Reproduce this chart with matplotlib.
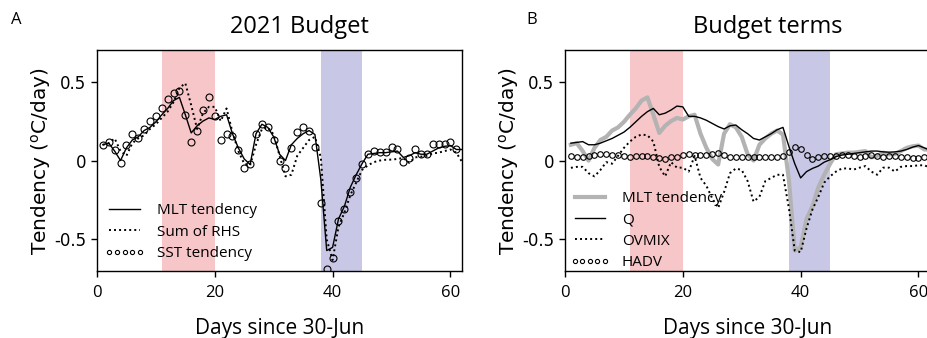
import numpy as np
import matplotlib
matplotlib.use("Agg")
import matplotlib.pyplot as plt

days = np.arange(1, 63)

mlt = [0.10, 0.11, 0.06, 0.00, 0.08, 0.13, 0.15, 0.19, 0.21, 0.245,
       0.29, 0.33, 0.38, 0.40, 0.29, 0.175, 0.22, 0.25, 0.27, 0.26,
       0.28, 0.29, 0.17, 0.08, 0.01, -0.025, 0.17, 0.23, 0.21, 0.15,
       0.04, 0.00, 0.10, 0.14, 0.17, 0.19, 0.165, -0.12, -0.57, -0.55,
       -0.37, -0.29, -0.17, -0.09, -0.02, 0.04, 0.045, 0.05, 0.05, 0.055,
       0.06, 0.02, 0.03, 0.05, 0.04, 0.04, 0.06, 0.08, 0.09, 0.095,
       0.07, 0.07]

rhs = [0.10, 0.11, 0.14, 0.06, 0.03, 0.11, 0.14, 0.16, 0.20, 0.23,
       0.27, 0.31, 0.37, 0.46, 0.49, 0.35, 0.20, 0.30, 0.34, 0.34,
       0.25, 0.33, 0.18, 0.06, -0.02, -0.03, 0.10, 0.20, 0.21, 0.165,
       0.03, -0.10, -0.09, 0.03, 0.08, 0.13, 0.15, 0.02, -0.50, -0.63,
       -0.42, -0.33, -0.22, -0.14, -0.06, -0.03, -0.01, 0.00, 0.005, 0.006,
       0.01, 0.017, -0.015, 0.02, 0.025, 0.03, 0.045, 0.05, 0.06, 0.07,
       0.05, -0.01]

sst_days = np.arange(1, 62)
sst = [0.10, 0.12, 0.065, -0.015, 0.10, 0.17, 0.145, 0.20, 0.25, 0.285,
       0.33, 0.39, 0.43, 0.44, 0.29, 0.12, 0.185, 0.32, 0.40, 0.28,
       0.13, 0.165, 0.155, 0.065, -0.046, -0.025, 0.165, 0.23, 0.21, 0.13,
       -0.004, -0.046, 0.08, 0.18, 0.21, 0.19, 0.086, -0.27, -0.69, -0.62,
       -0.38, -0.31, -0.20, -0.11, -0.025, 0.04, 0.06, 0.053, 0.053, 0.086,
       0.07, -0.01, 0.017, 0.07, 0.04, 0.04, 0.105, 0.105, 0.105, 0.12,
       0.07]

q = [0.11, 0.115, 0.12, 0.10, 0.10, 0.11, 0.125, 0.14, 0.16, 0.18,
     0.21, 0.245, 0.28, 0.31, 0.33, 0.29, 0.30, 0.32, 0.345, 0.34,
     0.28, 0.28, 0.27, 0.255, 0.235, 0.215, 0.20, 0.22, 0.225, 0.195,
     0.17, 0.14, 0.13, 0.15, 0.17, 0.195, 0.21, 0.09, -0.02, -0.11,
     -0.07, -0.05, -0.035, -0.01, 0.005, 0.025, 0.035, 0.04, 0.045, 0.05,
     0.055, 0.06, 0.06, 0.055, 0.053, 0.055, 0.06, 0.07, 0.085, 0.095,
     0.08, 0.065]

ovmix = [-0.046, -0.04, -0.04, -0.08, -0.10, -0.06, -0.01, -0.02, 0.03, 0.08,
         0.12, 0.15, 0.165, 0.16, 0.12, -0.04, -0.10, -0.01, -0.045, -0.045,
         -0.07, 0.03, -0.11, -0.16, -0.24, -0.30, -0.20, -0.08, -0.05, -0.06,
         -0.13, -0.26, -0.23, -0.13, -0.11, -0.09, -0.09, -0.30, -0.57, -0.58,
         -0.43, -0.31, -0.23, -0.14, -0.10, -0.07, -0.05, -0.05, -0.057, -0.045,
         -0.035, -0.07, -0.09, -0.045, -0.045, -0.07, -0.04, -0.035, -0.035, -0.03,
         -0.03, -0.046]

hadv = [0.03, 0.025, 0.025, 0.03, 0.035, 0.04, 0.04, 0.035, 0.035, 0.03,
        0.025, 0.03, 0.03, 0.03, 0.025, 0.015, 0.01, 0.02, 0.02, 0.035,
        0.04, 0.035, 0.035, 0.035, 0.04, 0.05, 0.035, 0.025, 0.02, 0.025,
        0.025, 0.025, 0.02, 0.02, 0.025, 0.025, 0.03, 0.055, 0.085, 0.075,
        0.035, 0.01, 0.02, 0.03, 0.03, 0.03, 0.035, 0.035, 0.03, 0.025,
        0.03, 0.035, 0.03, 0.025, 0.03, 0.03, 0.025, 0.02, 0.015, 0.015,
        0.02, 0.02]

pink_span = (11, 20)
blue_span = (38, 45)

font = "Open Sans"

fig = plt.figure(figsize=(9.27, 3.38), dpi=100)
ax1 = fig.add_axes([0.1046, 0.198, 0.394, 0.654])
ax2 = fig.add_axes([0.6095, 0.198, 0.394, 0.654])


def style(ax, title):
    ax.axvspan(*pink_span, color="#f7c6c9", lw=0, zorder=0)
    ax.axvspan(*blue_span, color="#c9c7e6", lw=0, zorder=0)
    ax.set_xlim(0, 62)
    ax.set_ylim(-0.7, 0.7)
    ax.set_xticks([0, 20, 40, 60])
    ax.set_yticks([-0.5, 0, 0.5])
    ax.set_yticklabels(["-0.5", "0", "0.5"], fontsize=12)
    for lab in ax.get_xticklabels():
        lab.set_fontfamily(font)
        lab.set_fontsize(12)
    ax.tick_params(direction="out", length=4, width=1)
    ax.tick_params(axis="x", pad=6)
    ax.set_xlabel("Days since 30-Jun", fontsize=15, family=font, labelpad=12)
    ax.set_ylabel("Tendency ($^{\\rm o}$C/day)", fontsize=14.5, labelpad=1)
    ax.set_title(title, fontsize=17, family=font, pad=12, x=0.555)
    for s in ax.spines.values():
        s.set_linewidth(1.0)


leg_kw = dict(frameon=False, numpoints=5, prop={"family": font, "size": 11},
              handlelength=2.6, handletextpad=0.8, labelspacing=0.42,
              borderpad=0.3, borderaxespad=0, loc="center left")

# panel A
style(ax1, "2021 Budget")
ax1.plot(days, mlt, color="black", lw=1.0, label="MLT tendency")
ax1.plot(days, rhs, color="black", lw=1.4, ls=(0, (1, 1.6)), label="Sum of RHS")
ax1.plot(sst_days, sst, ls="none", marker="o", ms=5, mfc="none", mec="black",
         mew=0.8, label="SST tendency")
ax1.legend(bbox_to_anchor=(0.009, 0.176), markerscale=0.6, **leg_kw)

# panel B
style(ax2, "Budget terms")
ax2.plot(days, mlt, color="#b3b3b3", lw=3, label="MLT tendency")
ax2.plot(days, q, color="black", lw=1.0, label="Q")
ax2.plot(days, ovmix, color="black", lw=1.4, ls=(0, (1, 1.6)), label="OVMIX")
ax2.plot(days, hadv, ls="none", marker="o", ms=4, mfc="none", mec="black",
         mew=0.8, label="HADV")
ax2.legend(bbox_to_anchor=(0.001, 0.183), markerscale=0.75, **leg_kw)

fig.text(0.012, 0.93, "A", fontsize=12, family=font)
fig.text(0.568, 0.93, "B", fontsize=12, family=font)

fig.savefig("out.png", dpi=100)
